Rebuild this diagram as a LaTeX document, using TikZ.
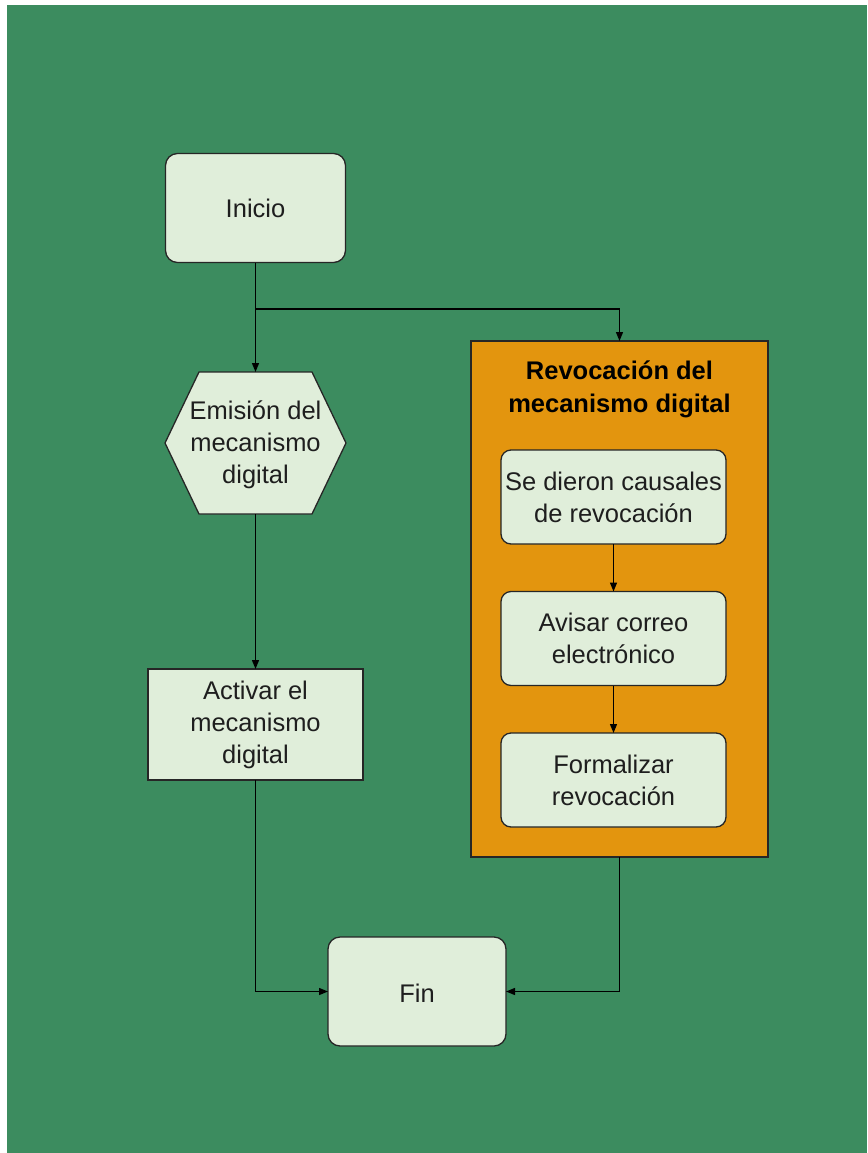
\documentclass[tikz,border=0pt]{standalone}
\usepackage{fontspec}
\setmainfont{Liberation Sans}
\usetikzlibrary{arrows.meta,calc}
\definecolor{bggreen}{RGB}{60,140,95}
\definecolor{boxfill}{RGB}{224,238,218}
\definecolor{orangefill}{RGB}{227,149,14}
\definecolor{txt}{RGB}{30,30,30}
\begin{document}
\begin{tikzpicture}[x=1pt,y=-1pt,
  every node/.style={inner sep=0pt,outer sep=0pt,align=center,text=txt,
    font=\fontsize{25.5}{32}\selectfont},
  startend/.style={draw=black!85,line width=1.3pt,fill=boxfill,rounded corners=12pt,
    minimum width=180pt,minimum height=109pt},
  process/.style={draw=black!85,line width=1.3pt,fill=boxfill,
    minimum width=215pt,minimum height=111pt},
  inner/.style={draw=black!85,line width=1.3pt,fill=boxfill,rounded corners=10pt,
    minimum width=225pt,minimum height=94pt},
  group/.style={draw=black!85,line width=1.3pt,fill=orangefill,
    minimum width=297pt,minimum height=516pt},
  conn/.style={draw=black,line width=1.3pt,-{Triangle[length=9pt,width=7pt]}},
  plain/.style={draw=black,line width=1.3pt}]
\useasboundingbox (0,0) rectangle (867,1153);
\fill[white] (0,0) rectangle (867,1153);
\fill[bggreen] (7,5) rectangle (867,1153);

% nodes
\node[startend] (inicio) at (255.5,208) {Inicio};
\node[minimum width=181pt,minimum height=142pt] (hex) at (255.5,443) {};
\draw[draw=black!85,line width=1.3pt,fill=boxfill]
  (hex.west) -- ($(hex.north west)+(34,0)$) -- ($(hex.north east)+(-34,0)$)
  -- (hex.east) -- ($(hex.south east)+(-34,0)$) -- ($(hex.south west)+(34,0)$) -- cycle;
\node at ($(hex.center)+(0,2)$) {Emisión del\\mecanismo\\digital};
\node[process] (activar) at (255.5,724.5) {Activar el\\mecanismo\\digital};
\node[startend,minimum width=178pt] (fin) at (417,991.5) {};
\node at ($(fin.center)+(0,1.5)$) {Fin};

\node[group] (rev) at (619.5,599) {};
\node[font=\bfseries\fontsize{25.5}{33}\selectfont,text=black] (title) at (619.5,389) {Revocación del\\mecanismo digital};
\node[inner] (causales) at (613.5,497) {Se dieron causales\\de revocación};
\node[inner] (avisar) at (613.5,638.5) {Avisar correo\\electrónico};
\node[inner] (formal) at (613.5,780) {Formalizar\\revocación};

% connectors
\coordinate (split) at (255.5,309);
\draw[conn] (inicio.south) -- (hex.north);
\draw[plain] (split) -| ($(rev.north)+(0,-8)$);
\draw[conn] ($(rev.north)+(0,-9)$) -- (rev.north);
\draw[conn] (hex.south) -- (activar.north);
\draw[conn] (activar.south) |- (fin.west);
\draw[conn] (rev.south) |- (fin.east);
\draw[conn] (causales.south) -- (avisar.north);
\draw[conn] (avisar.south) -- (formal.north);
\end{tikzpicture}
\end{document}
